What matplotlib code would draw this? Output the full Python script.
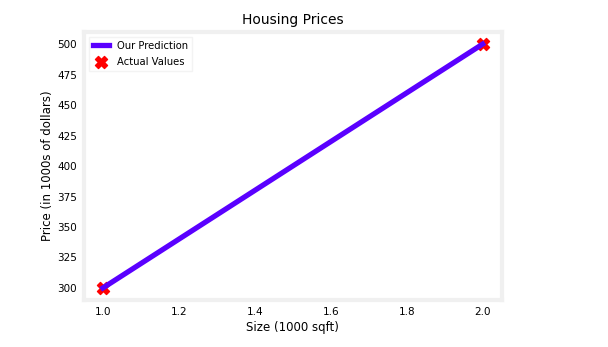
import matplotlib
matplotlib.use("Agg")
import matplotlib.pyplot as plt
import numpy as np

# training points and model prediction
x_train = np.array([1.0, 2.0])
y_train = np.array([300.0, 500.0])
w = 200
b = 100
tmp_f_wb = w * x_train + b

x_ticks = [1.0, 1.2, 1.4, 1.6, 1.8, 2.0]
y_ticks = [300, 325, 350, 375, 400, 425, 450, 475, 500]

fig = plt.figure(figsize=(6.08, 3.47), dpi=100)
ax = fig.add_axes([0.138, 0.135, 0.687, 0.773])

ax.plot(x_train, tmp_f_wb, c='#5a00ff', lw=3.8, label='Our Prediction', zorder=3)
ax.scatter(x_train, y_train, marker='X', c='#ff0000', s=75, linewidths=1,
           edgecolors='#ff0000', label='Actual Values', zorder=2)

ax.set_title('Housing Prices', fontsize=10, pad=6)
ax.set_xlabel('Size (1000 sqft)', fontsize=8.5, labelpad=3)
ax.set_ylabel('Price (in 1000s of dollars)', fontsize=8.5, labelpad=2)

ax.set_xticks(x_ticks)
ax.set_yticks(y_ticks)
ax.tick_params(length=0, pad=5, labelsize=7.5)

for sp in ax.spines.values():
    sp.set_color('#f0f0f0')
    sp.set_linewidth(3)

leg = ax.legend(loc='upper left', fontsize=7.2, frameon=True, fancybox=False,
                borderpad=0.4, labelspacing=0.6, handlelength=1.6)
leg.get_frame().set_edgecolor('#f0f0f0')

fig.savefig('out.png', dpi=100, facecolor='white')
